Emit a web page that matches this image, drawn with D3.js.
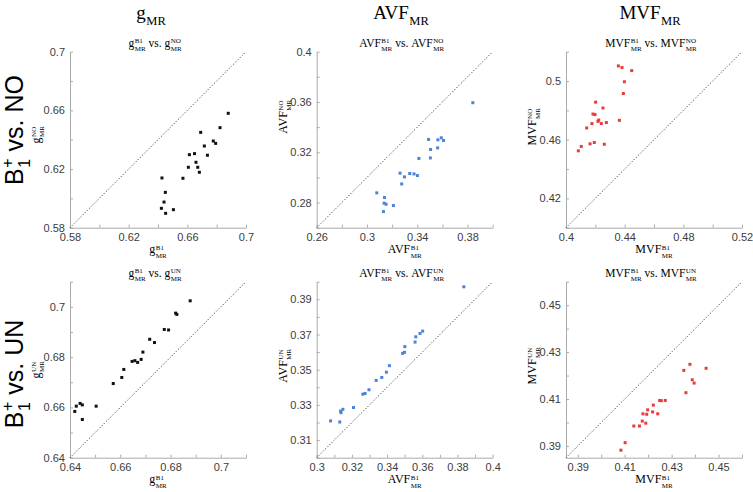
<!DOCTYPE html>
<html><head><meta charset="utf-8">
<script src="https://cdn.jsdelivr.net/npm/d3@7"></script>
<style>
html,body{margin:0;padding:0;background:#fff;}
svg{display:block;}
</style></head>
<body>
<svg id="chart" width="753" height="492"></svg>
<script>
// ---------------- DATA ----------------
const gB1_NO = [0.6879,0.6823,0.6691,0.6777,0.6793,0.6716,0.6614,0.6649,0.6737,0.6659,0.6607,0.6671,0.6682,0.6570,0.6427,0.6450,0.6441,0.6423,0.6505,0.6452];
const gNO    = [0.6580,0.6482,0.6450,0.6391,0.6375,0.6357,0.6298,0.6305,0.6294,0.6246,0.6212,0.6212,0.6178,0.6137,0.6139,0.6041,0.5975,0.5932,0.5923,0.5898];

const avfB1_NO = [0.3842,0.3490,0.3591,0.3609,0.3564,0.3506,0.3562,0.3504,0.3413,0.3263,0.3340,0.3374,0.3401,0.3298,0.3276,0.3078,0.3139,0.3136,0.3152,0.3210,0.3131];
const avfNO    = [0.3594,0.3302,0.3315,0.3294,0.3299,0.3222,0.3235,0.3155,0.3151,0.3034,0.3031,0.3028,0.3015,0.3004,0.2948,0.2877,0.2840,0.2795,0.2787,0.2776,0.2728];

const mvfB1_NO = [0.4357,0.4382,0.4448,0.4398,0.4391,0.4202,0.4252,0.4184,0.4198,0.4223,0.4364,0.4218,0.4275,0.4177,0.4241,0.4141,0.4193,0.4164,0.4261,0.4104,0.4084];
const mvfNO    = [0.5103,0.5092,0.5071,0.4995,0.4915,0.4856,0.4816,0.4775,0.4771,0.4734,0.4732,0.4725,0.4717,0.4710,0.4710,0.4680,0.4581,0.4572,0.4569,0.4554,0.4524];

const gB1_UN = [0.6878,0.6820,0.6825,0.6775,0.6792,0.6717,0.6736,0.6690,0.6683,0.6658,0.6647,0.6669,0.6614,0.6606,0.6572,0.6504,0.6440,0.6449,0.6425,0.6419,0.6449];
const gUN    = [0.7024,0.6975,0.6970,0.6910,0.6908,0.6871,0.6858,0.6820,0.6791,0.6786,0.6783,0.6779,0.6751,0.6719,0.6695,0.6605,0.6616,0.6610,0.6605,0.6584,0.6552];

const avfB1_UN = [0.3836,0.3602,0.3587,0.3563,0.3559,0.3501,0.3499,0.3488,0.3413,0.3396,0.3370,0.3338,0.3297,0.3275,0.3262,0.3209,0.3149,0.3136,0.3138,0.3131,0.3079];
const avfUN    = [0.3971,0.3719,0.3706,0.3687,0.3657,0.3631,0.3599,0.3593,0.3523,0.3486,0.3456,0.3439,0.3386,0.3365,0.3361,0.3285,0.3275,0.3265,0.3256,0.3203,0.3209];

const mvfB1_UN = [0.4447,0.4378,0.4352,0.4388,0.4396,0.4361,0.4273,0.4256,0.4249,0.4222,0.4198,0.4219,0.4241,0.4178,0.4194,0.4175,0.4190,0.4163,0.4139,0.4102,0.4084];
const mvfUN    = [0.4231,0.4248,0.4222,0.4182,0.4168,0.4127,0.4094,0.4093,0.4094,0.4074,0.4054,0.4045,0.4037,0.4037,0.4035,0.4006,0.3997,0.3985,0.3985,0.3914,0.3882];

// axis domains, tick steps and tick labels
const gNO_domain = [0.58,0.70],  gNO_step = 0.02;
const gNO_xLabels = [0.58,0.62,0.66,0.7], gNO_yLabels = [0.58,0.62,0.66,0.7];
const avfNO_domain = [0.26,0.40], avfNO_step = 0.02;
const avfNO_xLabels = [0.26,0.3,0.34,0.38], avfNO_yLabels = [0.28,0.32,0.36,0.4];
const mvfNO_domain = [0.40,0.52], mvfNO_step = 0.02;
const mvfNO_xLabels = [0.4,0.44,0.48,0.52], mvfNO_yLabels = [0.42,0.46,0.5];
const gUN_domain = [0.64,0.71], gUN_step = 0.01;
const gUN_xLabels = [0.64,0.66,0.68,0.7], gUN_yLabels = [0.64,0.66,0.68,0.7];
const avfUN_domain = [0.30,0.40], avfUN_step = 0.01;
const avfUN_xLabels = [0.3,0.32,0.34,0.36,0.38,0.4], avfUN_yLabels = [0.31,0.33,0.35,0.37,0.39];
const mvfUN_domain = [0.385,0.46], mvfUN_step = 0.01;
const mvfUN_xLabels = [0.39,0.41,0.43,0.45], mvfUN_yLabels = [0.39,0.41,0.43,0.45];

const columnTitles = ["g","AVF","MVF"];
const rowRefs = ["NO","UN"];

// ---------------- STYLE / LAYOUT ----------------
const SERIF = "'Liberation Serif','DejaVu Serif',serif";
const SANS = "'Liberation Sans',Arial,sans-serif";
const colors = ["#111111","#4f81d6","#ea3b3b"];
const colX = [70, 316.7, 566];
const rowY = [51.7, 281.7];
const W = 176, H = 176;
const yLabelShift = [[-5,-23,-13],[0,-4,-4]];

const svg = d3.select("#chart");

function rich(parent, segs, o){
  const outer = parent.append("g");
  const inner = outer.append("g");
  let x = 0;
  const fill = o.fill || "#000";
  const supDy = o.supDy != null ? o.supDy : -0.3;
  const subDy = o.subDy != null ? o.subDy : 0.36;
  segs.forEach(s=>{
    if(s.t){
      const t = inner.append("text").attr("x",x).attr("y",0)
        .style("font-family",o.family).style("font-size",o.size+"px").attr("fill",fill)
        .text(s.t.replace(/ /g,"\u00A0"));
      x += t.node().getComputedTextLength();
    }
    let w = 0;
    const gap = o.gap || 0.5;
    if(s.sup){
      const t = inner.append("text").attr("x",x+gap).attr("y",o.size*supDy)
        .style("font-family",o.family).style("font-size",o.sub+"px").attr("fill",fill).text(s.sup);
      w = Math.max(w, t.node().getComputedTextLength()+gap);
    }
    if(s.sub){
      const t = inner.append("text").attr("x",x+gap).attr("y",o.size*subDy)
        .style("font-family",o.family).style("font-size",o.sub+"px").attr("fill",fill).text(s.sub);
      w = Math.max(w, t.node().getComputedTextLength()+gap);
    }
    x += w;
  });
  inner.attr("transform",`translate(${-x/2},0)`);
  return outer;
}

function tickVals(dom, step){
  const a = Math.ceil(dom[0]/step - 1e-9), b = Math.floor(dom[1]/step + 1e-9);
  return d3.range(a, b+1).map(i => +(i*step).toFixed(4));
}
function fmtFor(labels){
  return d => labels.some(l => Math.abs(l-d) < 1e-9) ? String(+d.toFixed(3)) : "";
}

const panels = [
  {r:0,c:0,xs:gB1_NO,ys:gNO,dom:gNO_domain,step:gNO_step,xl:gNO_xLabels,yl:gNO_yLabels},
  {r:0,c:1,xs:avfB1_NO,ys:avfNO,dom:avfNO_domain,step:avfNO_step,xl:avfNO_xLabels,yl:avfNO_yLabels},
  {r:0,c:2,xs:mvfB1_NO,ys:mvfNO,dom:mvfNO_domain,step:mvfNO_step,xl:mvfNO_xLabels,yl:mvfNO_yLabels},
  {r:1,c:0,xs:gB1_UN,ys:gUN,dom:gUN_domain,step:gUN_step,xl:gUN_xLabels,yl:gUN_yLabels},
  {r:1,c:1,xs:avfB1_UN,ys:avfUN,dom:avfUN_domain,step:avfUN_step,xl:avfUN_xLabels,yl:avfUN_yLabels},
  {r:1,c:2,xs:mvfB1_UN,ys:mvfUN,dom:mvfUN_domain,step:mvfUN_step,xl:mvfUN_xLabels,yl:mvfUN_yLabels},
];

panels.forEach(p=>{
  const x0 = colX[p.c], y0 = rowY[p.r];
  const x = d3.scaleLinear().domain(p.dom).range([x0, x0+W]);
  const y = d3.scaleLinear().domain(p.dom).range([y0+H, y0]);
  const ticks = tickVals(p.dom, p.step);
  const g = svg.append("g");

  const xa = g.append("g").attr("transform",`translate(0,${y0+H})`)
    .call(d3.axisBottom(x).tickValues(ticks).tickFormat(fmtFor(p.xl)).tickSizeInner(-3).tickSizeOuter(0).tickPadding(6));
  const ya = g.append("g").attr("transform",`translate(${x0},0)`)
    .call(d3.axisLeft(y).tickValues(ticks).tickFormat(fmtFor(p.yl)).tickSizeInner(-3).tickSizeOuter(0).tickPadding(5));
  [xa,ya].forEach(a=>{
    a.select(".domain").attr("stroke","#aaaaaa");
    a.selectAll(".tick line").attr("stroke","#aaaaaa");
    a.selectAll(".tick text").attr("fill","#3c3c3c").style("font-family",SANS).style("font-size","11px");
  });

  // identity line
  g.append("line")
    .attr("x1",x(p.dom[0])).attr("y1",y(p.dom[0]))
    .attr("x2",x(p.dom[1])).attr("y2",y(p.dom[1]))
    .attr("stroke","#222").attr("stroke-width",1).attr("stroke-dasharray","1,2");

  // points
  const data = p.xs.map((v,i)=>[v,p.ys[i]]);
  g.selectAll("rect.pt").data(data).enter().append("rect").attr("class","pt")
    .attr("x",d=>x(d[0])-1.5).attr("y",d=>y(d[1])-1.5)
    .attr("width",3).attr("height",3).attr("fill",colors[p.c]);

  const name = columnTitles[p.c], ref = rowRefs[p.r];
  // subtitle
  rich(g,[{t:name,sup:"B1",sub:"MR"},{t:" vs. "+name,sup:ref,sub:"MR"}],{family:SERIF,size:11.5,sub:7})
    .attr("transform",`translate(${x0+W/2-3},${y0-5})`);
  // x axis label
  rich(g,[{t:name,sup:"B1",sub:"MR"}],{family:SERIF,size:12,sub:7})
    .attr("transform",`translate(${x0+W/2},${y0+H+25.5})`);
  // y axis label
  rich(g,[{t:name,sup:ref,sub:"MR"}],{family:SERIF,size:12,sub:7})
    .attr("transform",`translate(${x0-30},${y0+H/2+yLabelShift[p.r][p.c]}) rotate(-90)`);
});

// column titles
const titleX = [151,401,650];
columnTitles.forEach((t,i)=>{
  rich(svg,[{t:t,sub:"MR"}],{family:SERIF,size:19,sub:12.5,subDy:0.35})
    .attr("transform",`translate(${titleX[i]},18.5)`);
});
// row labels
const rowLabelY = [130,374];
rowRefs.forEach((r,i)=>{
  rich(svg,[{t:"B",sup:"+",sub:"1"},{t:" vs. "+r}],{family:SANS,size:25,sub:16,supDy:-0.42,subDy:0.28})
    .attr("transform",`translate(23,${rowLabelY[i]}) rotate(-90)`);
});
</script>
</body></html>
